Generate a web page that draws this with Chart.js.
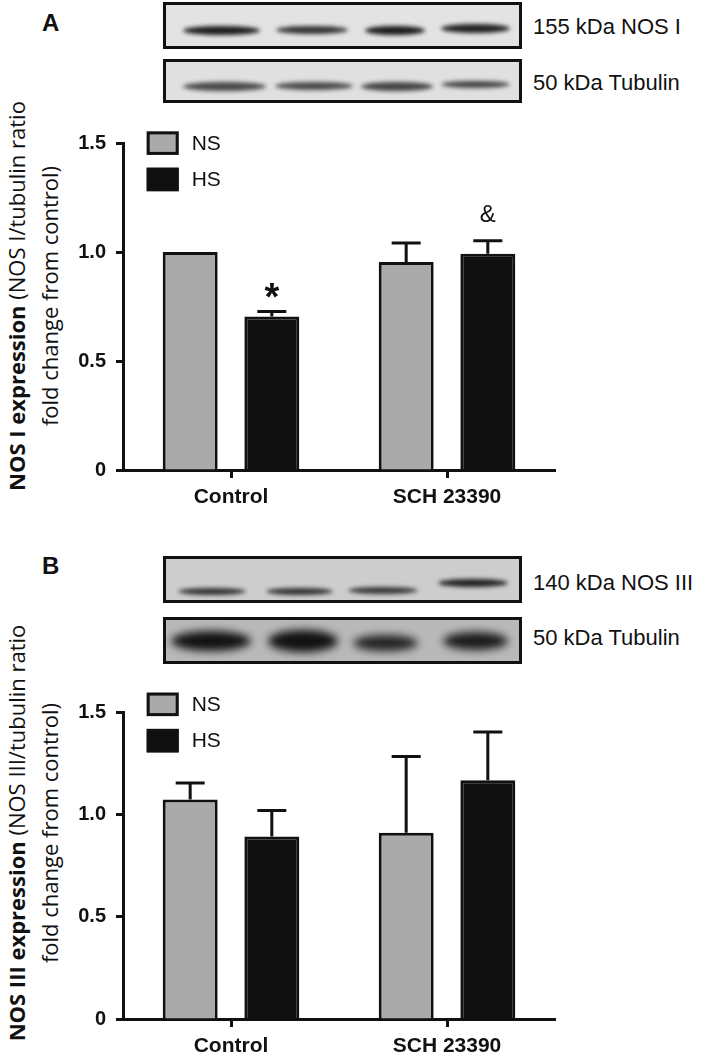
<!DOCTYPE html>
<html>
<head>
<meta charset="utf-8">
<script src="https://cdn.jsdelivr.net/npm/chart.js@4.4.0/dist/chart.umd.min.js"></script>
<style>
  body { margin: 0; background: #fff; }
  #page { position: relative; width: 709px; height: 1060px; overflow: hidden;
          font-family: 'Liberation Sans', Arial, sans-serif; color: #111; }
  .panel-letter { position: absolute; font-weight: bold; font-size: 24px; line-height: 28px; }
  .blot { position: absolute; border: 3px solid #111; box-sizing: border-box; overflow: hidden; }
  .band { position: absolute; border-radius: 50%; }
  .blot-label { position: absolute; font-size: 22px; line-height: 26px; white-space: nowrap; }
  .ytitle { position: absolute; width: 480px; text-align: center; white-space: nowrap;
            font-family: 'Open Sans', sans-serif; font-size: 22px; line-height: 33px;
            transform: translate(-50%, -50%) rotate(-90deg); }
  canvas { position: absolute; left: 0; }
</style>
</head>
<body>
<div id="page">
  <div class="panel-letter" style="left:42px; top:9px;">A</div>
  <div class="panel-letter" style="left:42px; top:552px;">B</div>

  <div class="blot-label" style="left:533px; top:14px;">155 kDa NOS I</div>
  <div class="blot-label" style="left:533px; top:70px;">50 kDa Tubulin</div>
  <div class="blot-label" style="left:533px; top:570px;">140 kDa NOS III</div>
  <div class="blot-label" style="left:533px; top:625px;">50 kDa Tubulin</div>

  <div class="ytitle" style="left:33px; top:296px;">
    <b>NOS I expression</b> (NOS I/tubulin ratio<br>fold change from control)
  </div>
  <div class="ytitle" style="left:33px; top:833px;">
    <b>NOS III expression</b> (NOS III/tubulin ratio<br>fold change from control)
  </div>

  <canvas id="chartA" width="709" height="410" style="top:110px;"></canvas>
  <canvas id="chartB" width="709" height="385" style="top:675px;"></canvas>
</div>

<script>
// categories and series
const categories = ['Control', 'SCH 23390'];
const seriesNames = ['NS', 'HS'];

// Panel A - NOS I
const nosI_NS = [1.0, 0.954];
const nosI_NS_err = [0, 0.087];
const nosI_HS = [0.704, 0.992];
const nosI_HS_err = [0.023, 0.06];
const nosI_HS_marks = ['*', '&'];

// Panel B - NOS III
const nosIII_NS = [1.073, 0.910];
const nosIII_NS_err = [0.08, 0.373];
const nosIII_HS = [0.892, 1.166];
const nosIII_HS_err = [0.127, 0.236];

// y axis ticks
const yTickValues = [0, 0.5, 1.0, 1.5];
const yTickLabels = ['0', '0.5', '1.0', '1.5'];

const INK = '#111111';
const NS_COLOR = '#aaaaaa';
const HS_COLOR = '#0f0f0f';

// western blot strips (decoration only, not chart data)
const blots = [
  { left: 163, top: 2, width: 359, height: 47, bg: '#e3e3e3', blur: 2,
    bands: [[180, 257, 27, 9, '#1e1e1e'], [273, 345, 27, 8, '#333'], [362, 422, 27, 9, '#1c1c1c'], [438, 507, 25, 9, '#222']] },
  { left: 163, top: 59, width: 359, height: 44, bg: '#e0e0e0', blur: 2,
    bands: [[180, 263, 83, 9, '#4a4a4a'], [272, 350, 83, 8, '#4a4a4a'], [358, 430, 83, 9, '#444'], [438, 507, 81, 7, '#444']] },
  { left: 163, top: 556, width: 359, height: 47, bg: '#cdcdcd', blur: 2,
    bands: [[175, 243, 588, 7, '#333'], [263, 330, 588, 7, '#333'], [345, 415, 587, 7, '#383838'], [435, 505, 580, 8, '#222']] },
  { left: 163, top: 617, width: 359, height: 47, bg: '#b9b9b9', blur: 4,
    bands: [[168, 248, 638, 20, '#111'], [265, 335, 638, 22, '#111'], [350, 415, 640, 16, '#222'], [440, 505, 638, 18, '#1a1a1a']] }
];

const page = document.getElementById('page');
blots.forEach(b => {
  const el = document.createElement('div');
  el.className = 'blot';
  Object.assign(el.style, { left: b.left + 'px', top: b.top + 'px', width: b.width + 'px', height: b.height + 'px', background: b.bg });
  b.bands.forEach(([x0, x1, yc, h, col]) => {
    const band = document.createElement('div');
    band.className = 'band';
    Object.assign(band.style, {
      left: (x0 - b.left) + 'px', top: (yc - h / 2 - b.top) + 'px',
      width: (x1 - x0) + 'px', height: h + 'px', background: col, filter: 'blur(' + b.blur + 'px)'
    });
    el.appendChild(band);
  });
  page.appendChild(el);
});

// error bars + significance marks
const errorBarPlugin = {
  id: 'errorBars',
  afterDatasetsDraw(chart) {
    const ctx = chart.ctx;
    const y = chart.scales.y;
    chart.data.datasets.forEach((ds, di) => {
      const meta = chart.getDatasetMeta(di);
      meta.data.forEach((bar, i) => {
        const err = ds.errors[i];
        let top = bar.y;
        if (err) {
          top = y.getPixelForValue(ds.data[i] + err);
          ctx.save();
          ctx.strokeStyle = INK;
          ctx.lineWidth = 3;
          ctx.beginPath();
          ctx.moveTo(bar.x, bar.y);
          ctx.lineTo(bar.x, top);
          ctx.moveTo(bar.x - 14.5, top);
          ctx.lineTo(bar.x + 14.5, top);
          ctx.stroke();
          ctx.restore();
        }
        const mark = ds.marks && ds.marks[i];
        if (mark) {
          ctx.save();
          ctx.fillStyle = INK;
          ctx.textAlign = 'center';
          ctx.textBaseline = 'alphabetic';
          if (mark === '*') {
            ctx.font = 'bold 38px "Liberation Sans", Arial, sans-serif';
            ctx.fillText(mark, bar.x, top - 2);
          } else {
            ctx.font = '24px "Liberation Sans", Arial, sans-serif';
            ctx.fillText(mark, bar.x, top - 19);
          }
          ctx.restore();
        }
      });
    });
  }
};

// boxed legend inside the plot
const boxLegendPlugin = {
  id: 'boxLegend',
  afterDraw(chart, args, opts) {
    const ctx = chart.ctx;
    const area = chart.chartArea;
    chart.data.datasets.forEach((ds, i) => {
      const bx = area.left + opts.left;
      const by = area.top + opts.top + i * 36.3;
      ctx.save();
      ctx.fillStyle = ds.backgroundColor;
      ctx.fillRect(bx, by, 32, 23.5);
      ctx.strokeStyle = INK;
      ctx.lineWidth = 3;
      ctx.strokeRect(bx + 1.5, by + 1.5, 29, 20.5);
      ctx.fillStyle = INK;
      ctx.font = '21px "Liberation Sans", Arial, sans-serif';
      ctx.textBaseline = 'middle';
      ctx.fillText(ds.label, bx + 45, by + 12.5);
      ctx.restore();
    });
  }
};

function makeChart(id, nsVals, nsErr, hsVals, hsErr, hsMarks, padTop, xHeight, legendTop) {
  const ctx = document.getElementById(id).getContext('2d');
  return new Chart(ctx, {
    type: 'bar',
    data: {
      labels: categories,
      datasets: [
        { label: seriesNames[0], data: nsVals, errors: nsErr, marks: null,
          backgroundColor: NS_COLOR, borderColor: INK, borderWidth: 3 },
        { label: seriesNames[1], data: hsVals, errors: hsErr, marks: hsMarks,
          backgroundColor: HS_COLOR, borderColor: INK, borderWidth: 3 }
      ]
    },
    options: {
      responsive: false,
      animation: false,
      devicePixelRatio: 1,
      barPercentage: 0.673,
      categoryPercentage: 0.756,
      layout: { padding: { left: 0, top: padTop, right: 154, bottom: 0 } },
      plugins: {
        legend: { display: false },
        tooltip: { enabled: false },
        boxLegend: { left: 23.7, top: legendTop }
      },
      scales: {
        x: {
          grid: { offset: false, drawOnChartArea: false, drawTicks: true, tickLength: 8, tickWidth: 3, tickColor: INK },
          border: { color: INK, width: 3 },
          ticks: { color: INK, padding: 7, font: { family: '"Liberation Sans", Arial, sans-serif', size: 21, weight: 'bold' } },
          afterFit(scale) { scale.height = xHeight; }
        },
        y: {
          min: 0,
          max: 1.5,
          afterBuildTicks(scale) { scale.ticks = yTickValues.map(v => ({ value: v })); },
          grid: { drawOnChartArea: false, drawTicks: true, tickLength: 7, tickWidth: 3, tickColor: INK },
          border: { color: INK, width: 3 },
          ticks: {
            color: INK, padding: 10,
            font: { family: '"Liberation Sans", Arial, sans-serif', size: 20, weight: 'bold' },
            callback: (value, index) => yTickLabels[index]
          },
          afterFit(scale) { scale.width = 123; }
        }
      }
    },
    plugins: [errorBarPlugin, boxLegendPlugin]
  });
}

makeChart('chartA', nosI_NS, nosI_NS_err, nosI_HS, nosI_HS_err, nosI_HS_marks, 33, 50, -11.6);
makeChart('chartB', nosIII_NS, nosIII_NS_err, nosIII_HS, nosIII_HS_err, null, 37, 41, -19.4);
</script>
</body>
</html>
